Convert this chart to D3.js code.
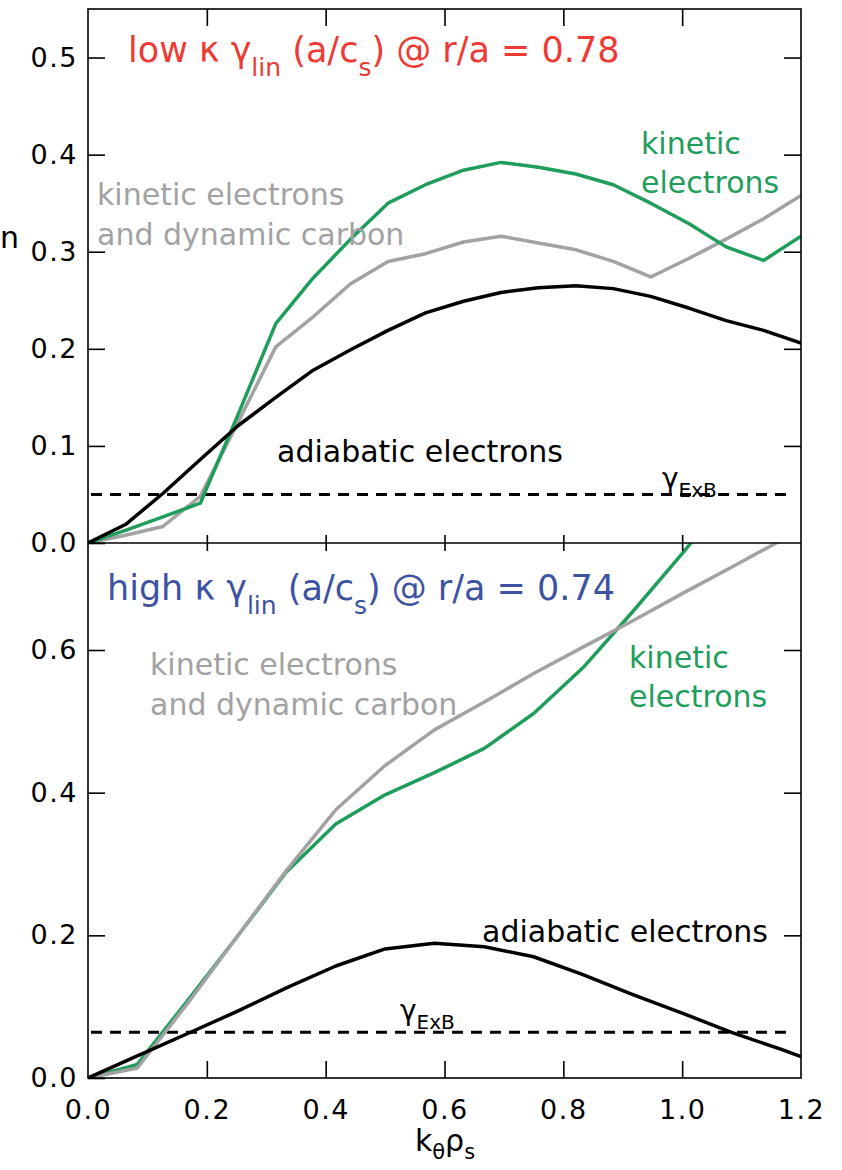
<!DOCTYPE html>
<html><head><meta charset="utf-8">
<script src="https://cdn.jsdelivr.net/npm/d3@7/dist/d3.min.js"></script>
<style>
html,body{margin:0;padding:0;background:#fff;}
svg{display:block;}
</style></head>
<body>
<svg id="chart" width="842" height="1170"></svg>
<script>
// ---------- data ----------
const xTop = [0, 0.063, 0.126, 0.189, 0.253, 0.316, 0.379, 0.442, 0.505, 0.568, 0.632, 0.695, 0.758, 0.821, 0.884, 0.947, 1.011, 1.074, 1.137, 1.2];
const topKinetic   = [0, 0.013, 0.027, 0.041, 0.133, 0.226, 0.273, 0.313, 0.350, 0.369, 0.384, 0.392, 0.387, 0.380, 0.369, 0.350, 0.329, 0.305, 0.291, 0.316];
const topCarbon    = [0, 0.008, 0.017, 0.048, 0.125, 0.202, 0.233, 0.267, 0.290, 0.298, 0.310, 0.316, 0.309, 0.302, 0.290, 0.274, 0.293, 0.313, 0.334, 0.358];
const topAdiabatic = [0, 0.019, 0.051, 0.086, 0.121, 0.150, 0.178, 0.199, 0.219, 0.237, 0.249, 0.258, 0.263, 0.265, 0.262, 0.254, 0.242, 0.229, 0.219, 0.206];
const topExB = 0.05;

const xBot = [0, 0.083, 0.167, 0.25, 0.333, 0.417, 0.5, 0.583, 0.667, 0.75, 0.833, 0.917, 1.0, 1.083, 1.167, 1.2];
const botKinetic   = [0, 0.019, 0.108, 0.197, 0.288, 0.356, 0.397, 0.428, 0.462, 0.511, 0.575, 0.654, 0.735, 0.82, 0.9, 0.94];
const botCarbon    = [0, 0.014, 0.104, 0.197, 0.290, 0.376, 0.438, 0.488, 0.527, 0.567, 0.604, 0.641, 0.679, 0.716, 0.754, 0.77];
const botAdiabatic = [0, 0.031, 0.062, 0.093, 0.126, 0.157, 0.181, 0.189, 0.184, 0.170, 0.145, 0.117, 0.091, 0.064, 0.040, 0.030];
const botExB = 0.064;

const xTicks = [0.0, 0.2, 0.4, 0.6, 0.8, 1.0, 1.2];
const yTicksTop = [0.0, 0.1, 0.2, 0.3, 0.4, 0.5];
const yTicksBot = [0.0, 0.2, 0.4, 0.6];

// ---------- layout ----------
const svg = d3.select("#chart");
const L = 88, R = 801, T1 = 9, M = 543, B2 = 1078;
const x = d3.scaleLinear().domain([0, 1.2]).range([L, R]);
const yT = d3.scaleLinear().domain([0, 0.55]).range([M, T1]);
const yB = d3.scaleLinear().domain([0, 0.75]).range([B2, M]);

const GREEN = "#1f9d5b", GREY = "#a2a2a2", RED = "#ee3a34", BLUE = "#3d52a3";
const TICKFONT = "DejaVu Sans";
const ANNFONT = "DejaVu Sans";

const defs = svg.append("defs");
defs.append("clipPath").attr("id","clipT").append("rect").attr("x",L).attr("y",T1).attr("width",R-L).attr("height",M-T1);
defs.append("clipPath").attr("id","clipB").append("rect").attr("x",L).attr("y",M).attr("width",R-L).attr("height",B2-M);

function panel(yScale, xs, series, exb, clipId) {
  const g = svg.append("g").attr("clip-path", `url(#${clipId})`);
  g.append("line")
    .attr("x1", L + 3).attr("x2", R - 8)
    .attr("y1", yScale(exb)).attr("y2", yScale(exb))
    .attr("stroke", "#000").attr("stroke-width", 3).attr("stroke-dasharray", "11,8");
  series.forEach(s => {
    const line = d3.line().x((d,i) => x(xs[i])).y(d => yScale(d));
    g.append("path").datum(s.v).attr("d", line)
      .attr("fill","none").attr("stroke", s.c).attr("stroke-width", 3.5)
      .attr("stroke-linejoin","round");
  });
}
panel(yT, xTop, [{v: topCarbon, c: GREY}, {v: topKinetic, c: GREEN}, {v: topAdiabatic, c: "#000"}], topExB, "clipT");
panel(yB, xBot, [{v: botKinetic, c: GREEN}, {v: botCarbon, c: GREY}, {v: botAdiabatic, c: "#000"}], botExB, "clipB");

// ---------- axes ----------
function styleAxis(sel, showLabels) {
  sel.select(".domain").remove();
  sel.selectAll(".tick line").attr("stroke","#000").attr("stroke-width",1.6);
  sel.selectAll(".tick text").attr("fill","#000").style("font-family", TICKFONT)
    .style("font-size","27px").style("letter-spacing","1.5px");
  if (!showLabels) sel.selectAll(".tick text").remove();
}
const fmt = d3.format(".1f");
// top panel
styleAxis(svg.append("g").attr("transform",`translate(${L},0)`)
  .call(d3.axisLeft(yT).tickValues(yTicksTop).tickFormat(fmt).tickSize(-17).tickPadding(10)), true);
styleAxis(svg.append("g").attr("transform",`translate(${R},0)`)
  .call(d3.axisRight(yT).tickValues(yTicksTop.slice(1)).tickSize(-17)), false);
styleAxis(svg.append("g").attr("transform",`translate(0,${T1})`)
  .call(d3.axisTop(x).tickValues(xTicks.slice(1,-1)).tickSize(-17)), false);
// shared middle axis: ticks crossing
styleAxis(svg.append("g").attr("transform",`translate(0,${M - 8})`)
  .call(d3.axisBottom(x).tickValues(xTicks.slice(1,-1)).tickSize(16)), false);
// bottom panel
styleAxis(svg.append("g").attr("transform",`translate(${L},0)`)
  .call(d3.axisLeft(yB).tickValues(yTicksBot).tickFormat(fmt).tickSize(-17).tickPadding(10)), true);
styleAxis(svg.append("g").attr("transform",`translate(${R},0)`)
  .call(d3.axisRight(yB).tickValues(yTicksBot.slice(1)).tickSize(-17)), false);
const xb = svg.append("g").attr("transform",`translate(0,${B2})`)
  .call(d3.axisBottom(x).tickValues(xTicks).tickFormat(fmt).tickSize(0).tickPadding(22));
styleAxis(xb, true);
styleAxis(svg.append("g").attr("transform",`translate(0,${B2})`)
  .call(d3.axisBottom(x).tickValues(xTicks.slice(1,-1)).tickSize(-17)), false);

// frame
const fr = svg.append("g").attr("fill","none").attr("stroke","#000").attr("stroke-width",1.6);
fr.append("rect").attr("x",L).attr("y",T1).attr("width",R-L).attr("height",B2-T1);
fr.append("line").attr("x1",L).attr("x2",R).attr("y1",M).attr("y2",M);

// ---------- text ----------
function rich(parent, xPos, yPos, color, size, parts, anchor) {
  const t = parent.append("text").attr("x", xPos).attr("y", yPos).attr("fill", color)
    .style("font-family", ANNFONT).style("font-size", size + "px")
    .attr("text-anchor", anchor || "start");
  let cur = 0;
  parts.forEach(p => {
    const off = p.sub ? p.sub : 0;
    t.append("tspan").attr("dy", off - cur).style("font-size", (p.size || size) + "px").text(p.t);
    cur = off;
  });
  return t;
}
// titles
rich(svg, 128, 62, RED, 35, [
  {t:"low κ γ"}, {t:"lin", sub:14, size:25}, {t:" (a/c"}, {t:"s", sub:14, size:25}, {t:") @ r/a = 0.78"}]);
rich(svg, 107, 600, BLUE, 35, [
  {t:"high κ γ"}, {t:"lin", sub:14, size:25}, {t:" (a/c"}, {t:"s", sub:14, size:25}, {t:") @ r/a = 0.74"}]);

function plain(xPos, yPos, color, size, txt, anchor) {
  svg.append("text").attr("x", xPos).attr("y", yPos).attr("fill", color)
    .style("font-family", ANNFONT).style("font-size", size + "px")
    .attr("text-anchor", anchor || "start").text(txt);
}
// top panel annotations
plain(97, 205, GREY, 30, "kinetic electrons");
plain(97, 245, GREY, 30, "and dynamic carbon");
plain(641, 154, GREEN, 30, "kinetic");
plain(641, 193, GREEN, 30, "electrons");
plain(277, 462, "#000", 30, "adiabatic electrons");
rich(svg, 662, 488, "#000", 28, [{t:"γ"}, {t:"ExB", sub:9, size:20}]);
// bottom panel annotations
plain(150, 675, GREY, 30, "kinetic electrons");
plain(150, 715, GREY, 30, "and dynamic carbon");
plain(629, 668, GREEN, 30, "kinetic");
plain(629, 707, GREEN, 30, "electrons");
plain(482, 942, "#000", 30, "adiabatic electrons");
rich(svg, 400, 1020, "#000", 28, [{t:"γ"}, {t:"ExB", sub:9, size:20}]);

// x axis label
rich(svg, 445, 1151, "#000", 30, [{t:"k"}, {t:"θ", sub:8, size:21}, {t:"ρ"}, {t:"s", sub:8, size:21}], "middle");

// stray glyph at the left edge (from a neighbouring label); kept fully inside the page
plain(0, 248, "#000", 30, "n", "start");
</script>
</body></html>
